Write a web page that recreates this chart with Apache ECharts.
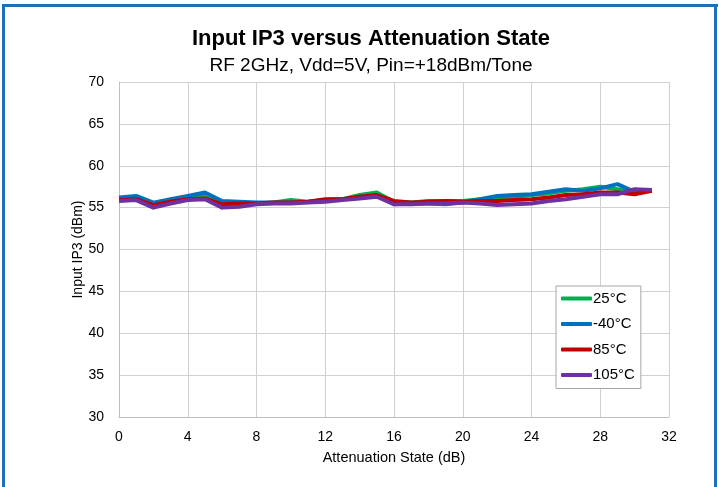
<!DOCTYPE html>
<html>
<head>
<meta charset="utf-8">
<script src="https://cdn.jsdelivr.net/npm/echarts@6/dist/echarts.min.js"></script>
<style>html,body{margin:0;padding:0;background:#fff;}#c{width:719px;height:487px;}</style>
</head>
<body>
<div id="c"></div>
<script>
const xStates = [0,1,2,3,4,5,6,7,8,9,10,11,12,13,14,15,16,17,18,19,20,21,22,23,24,25,26,27,28,29,30,31];
const seriesNames = ['25°C','-40°C','85°C','105°C'];
const t25  = [56.1,56.2,55.5,55.9,56.3,56.5,55.6,55.5,55.5,55.6,55.9,55.7,55.9,56.0,56.5,56.8,55.7,55.6,55.8,55.8,55.8,56.0,56.2,56.3,56.5,56.7,57.0,57.2,57.5,57.2,56.9,57.0];
const tm40 = [56.2,56.4,55.6,56.0,56.4,56.8,55.8,55.7,55.6,55.6,55.6,55.7,55.9,56.0,56.2,56.4,55.4,55.5,55.5,55.4,55.6,56.0,56.4,56.5,56.6,56.9,57.2,57.0,57.3,57.8,56.9,57.0];
const t85  = [55.9,56.0,55.3,55.7,56.0,56.1,55.4,55.5,55.5,55.6,55.6,55.7,56.0,56.0,56.3,56.5,55.8,55.6,55.7,55.8,55.7,55.8,55.8,55.9,56.0,56.2,56.5,56.6,56.8,56.8,56.6,57.0];
const t105 = [55.8,55.9,55.0,55.5,55.9,56.0,55.0,55.1,55.4,55.5,55.5,55.6,55.7,55.9,56.1,56.3,55.4,55.4,55.5,55.5,55.6,55.5,55.3,55.4,55.5,55.8,56.0,56.3,56.6,56.6,57.2,57.1];
const colors = ['#00B050','#0070C0','#C00000','#7030A0'];
const allData = [t25, tm40, t85, t105];

const chart = echarts.init(document.getElementById('c'), null, {renderer:'canvas'});
const font = '"Liberation Sans", Arial, sans-serif';
chart.setOption({
  animation: false,
  backgroundColor: '#fff',
  title: [
    {text: 'Input IP3 versus Attenuation State', left: 366, top: 23, textAlign: 'center',
     textStyle: {fontFamily: font, fontSize: 22, fontWeight: 'bold', color: '#000'}},
    {text: 'RF 2GHz, Vdd=5V, Pin=+18dBm/Tone', left: 366, top: 51, textAlign: 'center',
     textStyle: {fontFamily: font, fontSize: 19, fontWeight: 'normal', color: '#000'}}
  ],
  grid: {left: 119, right: 50, top: 82, bottom: 70, show: false},
  xAxis: {
    type: 'value', min: 0, max: 32, interval: 4,
    name: 'Attenuation State (dB)', nameLocation: 'middle', nameGap: 33,
    nameTextStyle: {fontFamily: font, fontSize: 14.5, color: '#000'},
    axisLine: {lineStyle: {color: '#bfbfbf'}},
    axisTick: {show: false},
    axisLabel: {fontFamily: font, fontSize: 14, color: '#000', margin: 13},
    splitLine: {show: true, lineStyle: {color: '#d0d0d0', width: 1}}
  },
  yAxis: {
    type: 'value', min: 30, max: 70, interval: 5,
    name: 'Input IP3 (dBm)', nameLocation: 'middle', nameGap: 34, nameMoveOverlap: false,
    nameTextStyle: {fontFamily: font, fontSize: 14, color: '#000'},
    axisLine: {show: true, lineStyle: {color: '#bfbfbf'}},
    axisTick: {show: false},
    axisLabel: {fontFamily: font, fontSize: 14, color: '#000', margin: 15},
    splitLine: {show: true, lineStyle: {color: '#d0d0d0', width: 1}}
  },
  legend: {
    orient: 'vertical', left: 556, top: 286,
    padding: [5, 6, 6, 5],
    backgroundColor: '#fff', borderColor: '#a6a6a6', borderWidth: 1,
    itemWidth: 31, itemHeight: 4, itemGap: 10.5,
    icon: 'roundRect',
    textStyle: {fontFamily: font, fontSize: 15, color: '#000', padding: [0,0,0,-4]},
    data: seriesNames
  },
  series: seriesNames.map((n, i) => ({
    name: n, type: 'line',
    data: xStates.map((x, k) => [x, allData[i][k]]),
    showSymbol: false, symbol: 'none',
    lineStyle: {color: colors[i], width: 4, join: 'round'},
    itemStyle: {color: colors[i]},
    z: 2 + i
  })),
  graphic: [
    {type: 'rect', shape: {x: 2, y: 4, width: 3, height: 483}, style: {fill: '#1F6FB5'}, silent: true},
    {type: 'rect', shape: {x: 2, y: 4, width: 716, height: 3}, style: {fill: '#1F6FB5'}, silent: true},
    {type: 'rect', shape: {x: 714, y: 4, width: 3, height: 483}, style: {fill: '#1F6FB5'}, silent: true}
  ]
});
</script>
</body>
</html>
